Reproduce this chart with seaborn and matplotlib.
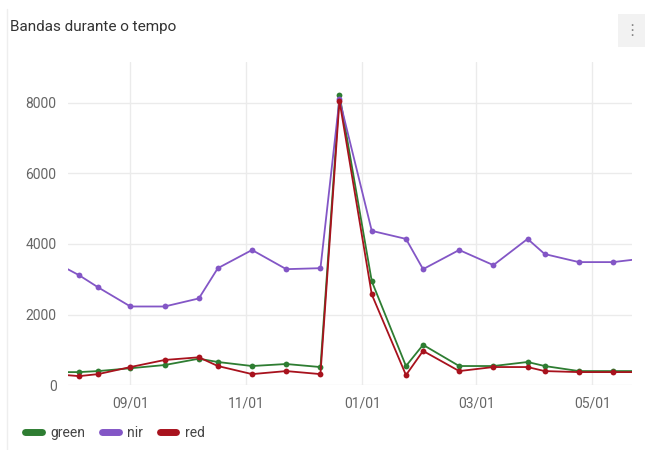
import pandas as pd
import matplotlib.pyplot as plt
import matplotlib.dates as mdates
from matplotlib.lines import Line2D
from matplotlib.patches import Rectangle
import seaborn as sns

# Datas das imagens (a primeira e a última ficam fora da área visível)
datas = ['2023-07-26', '2023-08-05', '2023-08-15', '2023-09-01', '2023-09-19',
         '2023-10-07', '2023-10-17', '2023-11-04', '2023-11-22', '2023-12-10',
         '2023-12-20', '2024-01-06', '2024-01-24', '2024-02-02', '2024-02-21',
         '2024-03-10', '2024-03-28', '2024-04-06', '2024-04-24', '2024-05-12',
         '2024-05-30']

green = [370, 371, 400, 480, 571, 750, 657, 543, 600, 514,
         8229, 2943, 543, 1143, 543, 543, 657, 543, 400, 400, 400]
nir = [3400, 3114, 2771, 2229, 2229, 2457, 3314, 3829, 3286, 3314,
       8100, 4371, 4143, 3286, 3829, 3400, 4143, 3714, 3486, 3486, 3600]
red = [300, 257, 314, 514, 714, 790, 543, 314, 400, 314,
       8057, 2571, 286, 971, 400, 514, 514, 400, 371, 371, 371]

bandas = ['green', 'nir', 'red']
cores = {'green': '#2e7d32', 'nir': '#8356c6', 'red': '#a8121d'}

df = pd.DataFrame({'data': pd.to_datetime(datas), 'green': green, 'nir': nir, 'red': red})
df_long = df.melt(id_vars='data', value_vars=bandas, var_name='banda', value_name='valor')

sns.set_style('white')
plt.rcParams['font.family'] = ['Roboto', 'DejaVu Sans']

fig = plt.figure(figsize=(6.45, 4.5), dpi=100)
ax = fig.add_axes([0.105, 0.144, 0.875, 0.718])

sns.lineplot(data=df_long, x='data', y='valor', hue='banda', hue_order=bandas,
             palette=cores, marker='o', markersize=4.2, markeredgewidth=0,
             linewidth=1.3, legend=False, ax=ax)

ax.set_xlim(pd.Timestamp('2023-07-30'), pd.Timestamp('2024-05-22'))
ax.set_ylim(0, 9150)
ax.set_yticks([0, 2000, 4000, 6000, 8000])
ax.xaxis.set_major_locator(mdates.MonthLocator(bymonth=[1, 3, 5, 9, 11], bymonthday=1))
ax.xaxis.set_major_formatter(mdates.DateFormatter('%m/%d'))
ax.grid(True, color='#ebebeb', linewidth=1)
ax.set_axisbelow(True)
for s in ax.spines.values():
    s.set_visible(False)
ax.tick_params(axis='both', length=0, labelsize=10, colors='#666666')
ax.tick_params(axis='x', pad=8)
ax.tick_params(axis='y', pad=8)
ax.set_xlabel('')
ax.set_ylabel('')

fig.text(0.016, 0.94, 'Bandas durante o tempo', fontsize=11, color='#333333',
         ha='left', va='center')

# botão de menu (três pontos)
fig.patches.append(Rectangle((0.958, 0.895), 0.042, 0.075, transform=fig.transFigure,
                             facecolor='#f2f2f2', edgecolor='none'))
fig.text(0.979, 0.933, '\u22ee', fontsize=11, color='#888888', ha='center', va='center',
         family=['DejaVu Sans'])

# borda esquerda do cartão
fig.add_artist(Line2D([0.011, 0.011], [0.0, 0.98], transform=fig.transFigure,
                      color='#eeeeee', linewidth=1))

handles = [Line2D([0], [0], color=cores[b], linewidth=5, solid_capstyle='round') for b in bandas]
fig.legend(handles, bandas, loc='center left', bbox_to_anchor=(0.02, 0.038), ncol=3,
           frameon=False, fontsize=10, handlelength=1.2, handletextpad=0.6,
           columnspacing=1.2, labelcolor='#444444')

fig.savefig('out.png', dpi=100)
